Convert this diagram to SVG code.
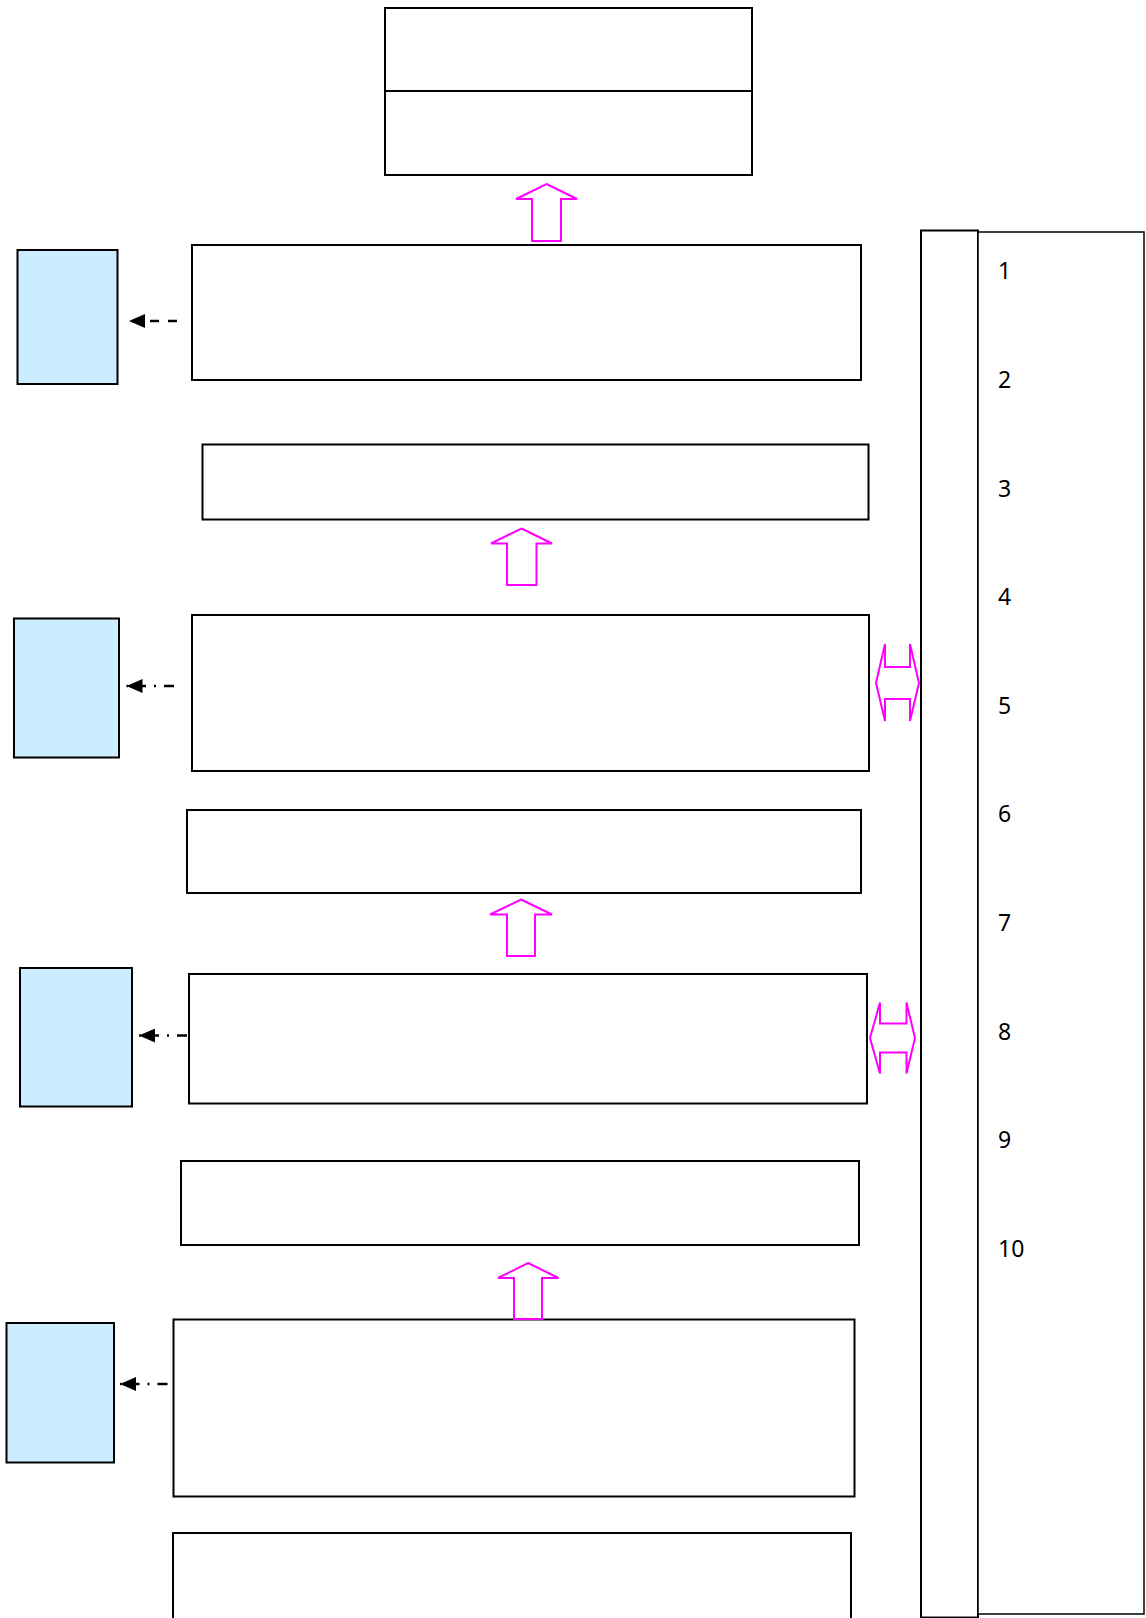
<svg xmlns="http://www.w3.org/2000/svg" width="1146" height="1618" viewBox="0 0 1146 1618">
<defs>
<style>
.box{fill:#ffffff;stroke:#000000;stroke-width:2}
.side{fill:#ccecff;stroke:#000000;stroke-width:2}
.blk{fill:#ffffff;stroke:#ff00ff;stroke-width:2;stroke-linejoin:miter}
.dash{fill:none;stroke:#000000;stroke-width:2.5;stroke-dasharray:9 9;marker-end:url(#ah)}
.dd{fill:none;stroke:#000000;stroke-width:2.5;stroke-dasharray:10 8 2 8;marker-end:url(#ah)}
.num{font-family:"Noto Sans","DejaVu Sans",sans-serif;font-size:23px;fill:#000000}
</style>
<marker id="ah" viewBox="0 0 16 14" refX="16" refY="7" markerWidth="16" markerHeight="14" markerUnits="userSpaceOnUse" orient="auto">
<path d="M0,0 L16,7 L0,14 Z" fill="#000000"/>
</marker>
</defs>
<rect width="1146" height="1618" fill="#ffffff"/>

<g id="top-box">
<rect class="box" x="385" y="8" width="367" height="83"/>
<rect class="box" x="385" y="91" width="367" height="84"/>
</g>

<g id="box1"><rect class="box" x="192" y="245" width="669" height="135"/></g>
<g id="side1"><rect class="side" x="17.5" y="250" width="100" height="134"/></g>

<g id="box2"><rect class="box" x="202.5" y="444.5" width="666" height="75"/></g>

<g id="box3"><rect class="box" x="192" y="615" width="677" height="156"/></g>
<g id="side2"><rect class="side" x="14" y="618.5" width="105" height="139"/></g>

<g id="box4"><rect class="box" x="187" y="810" width="674" height="83"/></g>

<g id="box5"><rect class="box" x="189" y="974" width="678" height="129.5"/></g>
<g id="side3"><rect class="side" x="20" y="968" width="112" height="138.5"/></g>

<g id="box6"><rect class="box" x="181" y="1161" width="678" height="84"/></g>

<g id="box7"><rect class="box" x="173.5" y="1319.5" width="681" height="177"/></g>
<g id="side4"><rect class="side" x="6.5" y="1323" width="107.5" height="139.5"/></g>

<g id="box8"><rect class="box" x="173" y="1533" width="678" height="100"/></g>

<g id="panel">
<rect class="box" x="921" y="230.5" width="57" height="1387"/>
<rect class="box" x="978" y="232" width="166" height="1382" style="stroke-width:1.5"/>
<text class="num" x="998" y="279">1</text>
<text class="num" x="998" y="387.5">2</text>
<text class="num" x="998" y="497">3</text>
<text class="num" x="998" y="605">4</text>
<text class="num" x="998" y="713.5">5</text>
<text class="num" x="998" y="822">6</text>
<text class="num" x="998" y="931">7</text>
<text class="num" x="998" y="1039.5">8</text>
<text class="num" x="998" y="1148">9</text>
<text class="num" x="998" y="1257">10</text>
</g>

<g id="connectors">
<polygon class="blk" points="546.5,184 577,199 561,199 561,241 532,241 532,199 516,199"/>
<polygon class="blk" points="521.5,528.5 552,543.5 536.5,543.5 536.5,585 507,585 507,543.5 491,543.5"/>
<polygon class="blk" points="521,899.5 552,914.5 535,914.5 535,956 507,956 507,914.5 490,914.5"/>
<polygon class="blk" points="528,1263 558.5,1278 542,1278 542,1319 514,1319 514,1278 498,1278"/>
<polygon class="blk" points="876,683 885,644 885,667 910,667 910,644 919,683 910,721 910,699 885,699 885,721"/>
<polygon class="blk" points="870,1038 880,1002.5 880,1023.5 906.5,1023.5 906.5,1002.5 915,1038 906.5,1073.5 906.5,1052.5 880,1052.5 880,1073.5"/>
<path class="dash" d="M177,321 L129,321"/>
<path class="dd" d="M174,686 L126.5,686"/>
<path class="dd" d="M187,1035.5 L139,1035.5"/>
<path class="dd" d="M167.5,1384 L120,1384"/>
</g>
</svg>
